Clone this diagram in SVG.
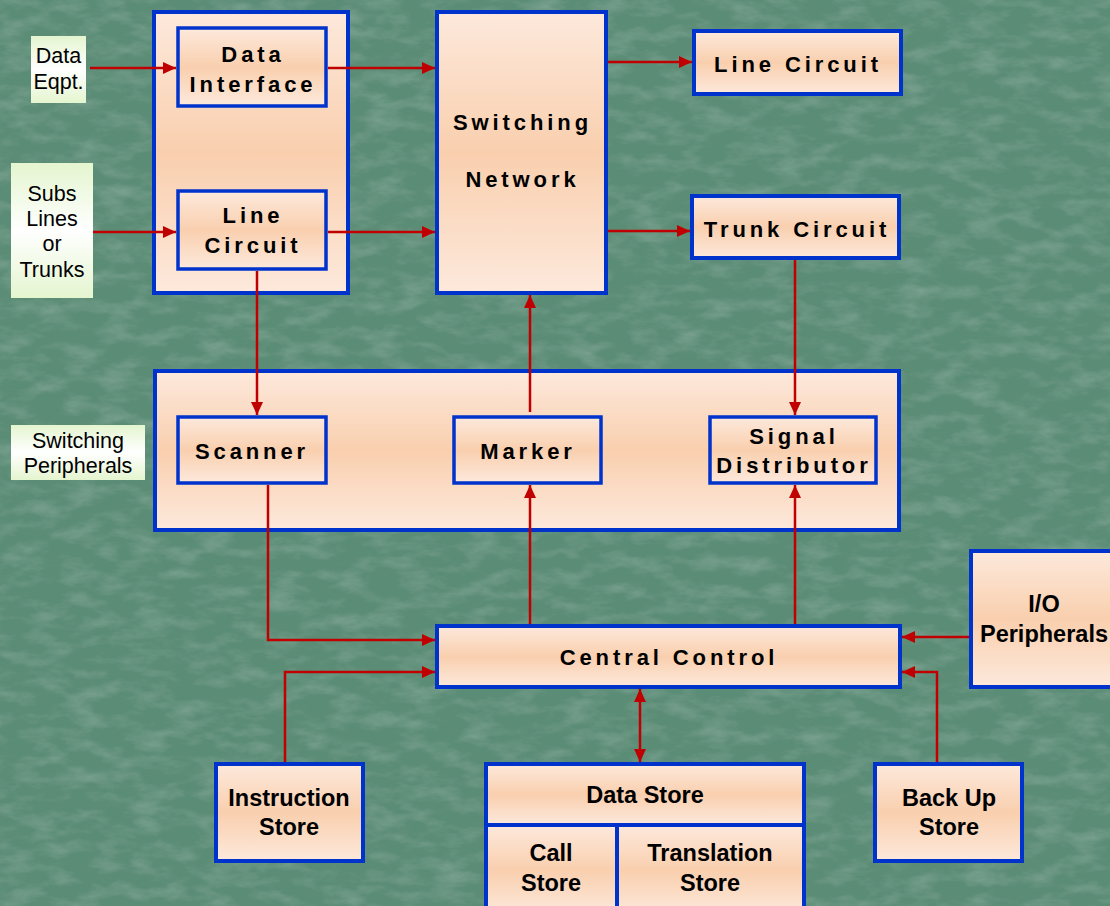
<svg xmlns="http://www.w3.org/2000/svg" width="1110" height="906" viewBox="0 0 1110 906">
<style>
.box{stroke:#0033cc;stroke-width:4;fill:url(#peach)}
.ibox{stroke:#0033cc;stroke-width:3.5;fill:url(#peach)}
.lbl{fill:url(#mint)}
.wire{fill:none;stroke:#c00000;stroke-width:2.5}
.t{font-family:"Liberation Sans",Arial,sans-serif;font-weight:bold;font-size:22px;letter-spacing:3.9px;fill:#000;text-anchor:middle}
.b{font-family:"Liberation Sans",Arial,sans-serif;font-weight:bold;font-size:23.5px;fill:#000;text-anchor:middle}
.r{font-family:"Liberation Sans",Arial,sans-serif;font-size:21.5px;fill:#000;text-anchor:middle}
</style>
<defs>
<linearGradient id="peach" x1="0" y1="0" x2="0" y2="1">
<stop offset="0" stop-color="#fde9dc"/>
<stop offset="0.5" stop-color="#f9cfae"/>
<stop offset="1" stop-color="#fde9dc"/>
</linearGradient>
<linearGradient id="mint" x1="0" y1="0" x2="0" y2="1">
<stop offset="0" stop-color="#e4f5cf"/>
<stop offset="0.5" stop-color="#ffffff"/>
<stop offset="1" stop-color="#e4f5cf"/>
</linearGradient>
<filter id="tex" x="0" y="0" width="100%" height="100%">
<feTurbulence type="fractalNoise" baseFrequency="0.03 0.07" numOctaves="4" seed="7"/>
<feColorMatrix type="matrix" values="0 0 0 0 1  0 0 0 0 1  0 0 0 0 1  1.2 0 0 0 -0.5"/>
</filter>
<marker id="ah" viewBox="0 0 13 12" refX="13" refY="6" markerWidth="13" markerHeight="12" markerUnits="userSpaceOnUse" orient="auto-start-reverse">
<path d="M0,0 L13,6 L0,12 z" fill="#c00000"/>
</marker>
</defs>
<rect width="1110" height="906" fill="#5b8c76"/>
<rect width="1110" height="906" filter="url(#tex)" opacity="0.3"/>

<g id="label-data-eqpt"><rect class="lbl" x="31" y="36" width="55" height="67"/><text class="r" x="58.5" y="63">Data</text><text class="r" x="58.5" y="89">Eqpt.</text></g>
<g id="label-subs"><rect class="lbl" x="11" y="163" width="82" height="135"/><text class="r" x="52" y="201">Subs</text><text class="r" x="52" y="226">Lines</text><text class="r" x="52" y="251">or</text><text class="r" x="52" y="277">Trunks</text></g>
<g id="label-switching-peripherals"><rect class="lbl" x="11" y="425" width="134" height="55"/><text class="r" x="78" y="448">Switching</text><text class="r" x="78" y="473">Peripherals</text></g>

<g id="line-unit"><rect class="box" x="154" y="12" width="194" height="281"/></g>
<g id="data-interface"><rect class="ibox" x="178" y="28" width="148" height="78"/><text class="t" x="253" y="62">Data</text><text class="t" x="253" y="92">Interface</text></g>
<g id="line-circuit-in"><rect class="ibox" x="178" y="191" width="148" height="78"/><text class="t" x="253" y="223">Line</text><text class="t" x="253" y="253">Circuit</text></g>
<g id="switching-network"><rect class="box" x="437" y="12" width="169" height="281"/><text class="t" x="522.5" y="130">Switching</text><text class="t" x="522.5" y="187">Network</text></g>
<g id="line-circuit-out"><rect class="box" x="694" y="31" width="207" height="63"/><text class="t" x="798" y="72">Line Circuit</text></g>
<g id="trunk-circuit"><rect class="box" x="692" y="196" width="207" height="62"/><text class="t" x="797" y="237">Trunk Circuit</text></g>

<g id="switching-peripherals"><rect class="box" x="155" y="371" width="744" height="159"/></g>
<g id="scanner"><rect class="ibox" x="178" y="417" width="148" height="66"/><text class="t" x="252" y="459">Scanner</text></g>
<g id="marker"><rect class="ibox" x="454" y="417" width="147" height="66"/><text class="t" x="528" y="459">Marker</text></g>
<g id="signal-distributor"><rect class="ibox" x="710" y="417" width="166" height="66"/><text class="t" x="794" y="444">Signal</text><text class="t" x="794" y="473">Distributor</text></g>

<g id="central-control"><rect class="box" x="437" y="626" width="463" height="61"/><text class="t" x="669" y="665">Central Control</text></g>
<g id="io-peripherals"><rect class="box" x="971" y="551" width="145" height="136"/><text class="b" x="1044" y="612">I/O</text><text class="b" x="1044" y="642">Peripherals</text></g>
<g id="instruction-store"><rect class="box" x="216" y="764" width="147" height="97"/><text class="b" x="289" y="806">Instruction</text><text class="b" x="289" y="835">Store</text></g>
<g id="data-store"><rect class="box" x="486" y="764" width="318" height="61"/><text class="b" x="645" y="803">Data Store</text></g>
<g id="call-store"><rect class="box" x="486" y="825" width="131" height="90"/><text class="b" x="551" y="861">Call</text><text class="b" x="551" y="891">Store</text></g>
<g id="translation-store"><rect class="box" x="617" y="825" width="187" height="90"/><text class="b" x="710" y="861">Translation</text><text class="b" x="710" y="891">Store</text></g>
<g id="back-up-store"><rect class="box" x="875" y="764" width="147" height="97"/><text class="b" x="949" y="806">Back Up</text><text class="b" x="949" y="835">Store</text></g>

<g id="connectors">
<path class="wire" d="M90,68 H176" marker-end="url(#ah)"/>
<path class="wire" d="M93,232 H176" marker-end="url(#ah)"/>
<path class="wire" d="M328,68 H435" marker-end="url(#ah)"/>
<path class="wire" d="M328,232 H435" marker-end="url(#ah)"/>
<path class="wire" d="M608,62 H692" marker-end="url(#ah)"/>
<path class="wire" d="M608,231 H690" marker-end="url(#ah)"/>
<path class="wire" d="M257,271 V415" marker-end="url(#ah)"/>
<path class="wire" d="M530,412 V295" marker-end="url(#ah)"/>
<path class="wire" d="M795,260 V415" marker-end="url(#ah)"/>
<path class="wire" d="M268,485 V640 H435" marker-end="url(#ah)"/>
<path class="wire" d="M285,762 V672 H435" marker-end="url(#ah)"/>
<path class="wire" d="M530,624 V485" marker-end="url(#ah)"/>
<path class="wire" d="M795,624 V485" marker-end="url(#ah)"/>
<path class="wire" d="M969,637 H902" marker-end="url(#ah)"/>
<path class="wire" d="M937,762 V672 H902" marker-end="url(#ah)"/>
<path class="wire" d="M640,689 V762" marker-start="url(#ah)" marker-end="url(#ah)"/>
</g>
</svg>
